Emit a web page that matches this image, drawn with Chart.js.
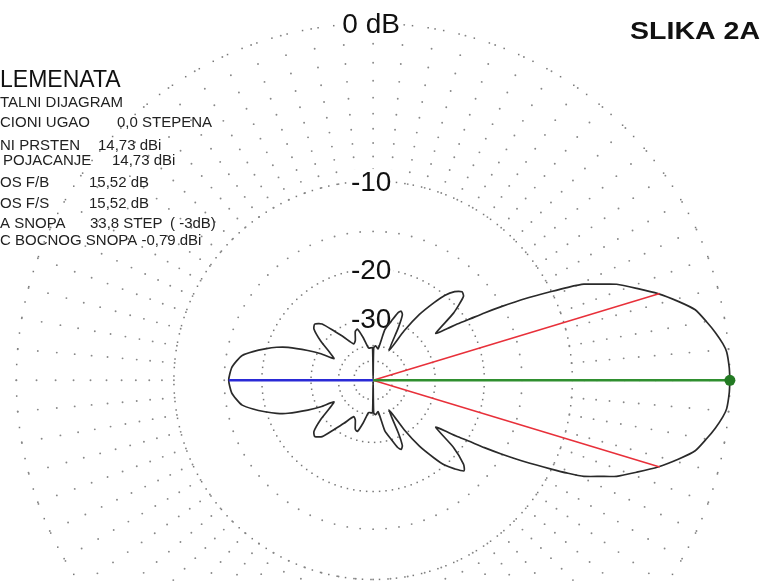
<!DOCTYPE html>
<html>
<head>
<meta charset="utf-8">
<script src="https://cdn.jsdelivr.net/npm/chart.js@4"></script>
<style>
  html, body { margin: 0; padding: 0; background: #fff; }
  #wrap { width: 763px; height: 582px; }
</style>
</head>
<body>
<div id="wrap"><canvas id="pattern-chart" width="763" height="582"></canvas></div>
<script>
// azimuth pattern, dB relative to the main lobe
// upper half (0 = forward, counter-clockwise)
let top_deg = [0, 2, 4.6, 6, 8, 10, 12.4, 14.5, 17, 19.3, 21.6, 23, 24.6, 25.6, 26.6, 28.3, 30, 31.3, 32.6, 34,
  35, 37, 40, 43, 45, 47.5, 50, 52, 55, 58, 62, 64.5, 66, 68, 70, 73, 77, 81, 86, 89, 90, 91, 94, 98, 103, 107,
  110, 114, 118, 124, 128, 132, 136, 139, 143, 147, 151, 153, 155.4, 158.7, 161, 163.7, 166.5, 169.2, 172, 175, 180];
let top_db = [0, -0.02, -0.1, -0.25, -0.55, -0.9, -1.35, -2.1, -3.1, -4.2, -5.3, -6.3, -7.4, -8.6, -10, -12.4,
  -15.1, -17.3, -19.7, -21.8, -23.5, -26, -21, -18.2, -17.9, -18.6, -20, -22, -25.5, -31, -40.5, -31, -27.5,
  -26.8, -27.5, -30, -33, -41.4, -40, -41, -99, -41, -41, -41, -36, -32.5, -33, -36, -37, -33, -30, -26.5,
  -25.4, -26, -29, -33, -35.6, -31, -27.5, -23.4, -21.5, -19.8, -18.2, -16.9, -16.3, -15.8, -15.52];
// lower half (180 -> 360)
let bot_deg = [185, 188, 190.8, 193.5, 196.3, 199, 201.3, 204.6, 207, 209, 213, 217, 221, 224, 228, 232, 236, 242,
  246, 250, 253, 257, 262, 266, 269, 270, 271, 274, 279, 283, 287, 290, 292, 294, 295.5, 298, 302, 305, 308, 310,
  312.5, 315, 317, 320, 323, 325, 326, 327.4, 328.7, 330, 331.7, 333.4, 334.4, 335.4, 337, 338.4, 340.7, 343,
  345.5, 347.6, 350, 352, 354, 355.4, 358, 360];
let bot_db = [-15.8, -16.3, -16.9, -18.2, -19.8, -21.5, -23.4, -27.5, -31, -35.6, -33, -29, -26, -25.4, -26.5, -30,
  -33, -37, -36, -33, -32.5, -36, -41, -41, -41, -99, -41, -40, -41.4, -33, -30, -27.5, -26.8, -27.5, -31, -40.5,
  -31, -25.5, -22, -20, -18.6, -17.5, -18.2, -21, -26, -23.5, -21.8, -19.7, -17.3, -15.1, -12.4, -10, -8.6, -7.4,
  -6.3, -5.3, -4.2, -3.1, -2.1, -1.35, -0.9, -0.55, -0.25, -0.1, -0.02, 0];

let beam_width = 33.8;      // STEP, at -3 dB
let beam_level = -3;
let front_back = 15.52;     // dB

let ring_levels = [0, -10, -20, -30, -40, -50];
let ring_labels = ['0 dB', '-10', '-20', '-30'];
let tick_levels = [0, -1, -2, -3, -4, -5, -6, -7, -8, -9, -10, -15];
let spoke_angles = [];
for (let a = 0; a < 360; a += 5) spoke_angles.push(a);

let info_names = ['TALNI DIJAGRAM', 'CIONI UGAO', 'NI PRSTEN', 'POJACANJE', 'OS F/B', 'OS F/S', 'A SNOPA',
  'C BOCNOG SNOPA -0,79 dBi'];
let info_values = ['', '0,0 STEPENA', '14,73 dBi', '14,73 dBi', '15,52 dB', '15,52 dB', '33,8 STEP', ''];

// ARRL log scale: 2 dB per 0.89
function arrl(db) { return Math.pow(0.89, -db / 2); }
function polar(deg, db) {
  let r = arrl(db), t = deg * Math.PI / 180;
  return { x: r * Math.cos(t), y: r * Math.sin(t) };
}

let pattern_pts = [];
top_deg.forEach((a, i) => pattern_pts.push(polar(a, top_db[i])));
bot_deg.forEach((a, i) => pattern_pts.push(polar(a, bot_db[i])));

let origin = { x: 0, y: 0 };

const gridPlugin = {
  id: 'grid',
  beforeDatasetsDraw(chart) {
    const ctx = chart.ctx;
    const xs = chart.scales.x, ys = chart.scales.y;
    const cx = xs.getPixelForValue(0), cy = ys.getPixelForValue(0);
    const unit = xs.getPixelForValue(1) - cx;
    const ringGap = [15.8, 8.5, 6.5, 6, 5.5, 5];
    ctx.save();
    ctx.fillStyle = '#777';
    ring_levels.forEach((lv, k) => {
      const r = arrl(lv) * unit;
      const n = Math.round(2 * Math.PI * r / ringGap[k]);
      for (let i = 0; i < n; i++) {
        const t = i / n * 2 * Math.PI;
        ctx.fillRect(cx + r * Math.cos(t) - 0.75, cy - r * Math.sin(t) - 0.75, 1.5, 1.5);
      }
    });
    ctx.fillStyle = '#888';
    spoke_angles.forEach(a => {
      const t = a * Math.PI / 180;
      tick_levels.forEach(lv => {
        const r = arrl(lv) * unit;
        ctx.beginPath();
        ctx.arc(cx + r * Math.cos(t), cy - r * Math.sin(t), 0.95, 0, 2 * Math.PI);
        ctx.fill();
      });
    });
    // ring labels
    ctx.font = '28px "Liberation Sans", Arial, sans-serif';
    ctx.textAlign = 'center';
    ctx.textBaseline = 'alphabetic';
    ring_labels.forEach((txt, k) => {
      const y = cy - arrl(ring_levels[k]) * unit;
      const w = ctx.measureText(txt).width;
      ctx.fillStyle = '#fff';
      ctx.fillRect(cx - 2 - w / 2 - 2, y - 12, w + 4, 24);
      ctx.fillStyle = '#111';
      ctx.fillText(txt, cx - 2, y + 10);
    });
    ctx.restore();
  },
  afterDraw(chart) {
    const ctx = chart.ctx;
    ctx.save();
    ctx.fillStyle = '#111';
    ctx.textBaseline = 'alphabetic';
    ctx.textAlign = 'left';
    // title
    ctx.font = 'bold 23px "Liberation Sans", Arial, sans-serif';
    let w = ctx.measureText('SLIKA 2A').width;
    ctx.save();
    ctx.translate(630, 38.5);
    ctx.scale(130 / w, 1);
    ctx.fillText('SLIKA 2A', 0, 0);
    ctx.restore();
    ctx.font = '23px "Liberation Sans", Arial, sans-serif';
    ctx.fillText('LEMENATA', 0, 86.5);
    ctx.font = '15px "Liberation Sans", Arial, sans-serif';
    ctx.fillStyle = '#222';
    const baseY = [106.5, 126.5, 150, 165, 186.5, 208, 228, 245];
    const nameX = [0, 0, 0, 3, 0, 0, 0, 0];
    const valX = [0, 117, 98, 112, 89, 89, 90, 0];
    info_names.forEach((nm, i) => {
      ctx.fillText(nm, nameX[i], baseY[i]);
      if (info_values[i]) ctx.fillText(info_values[i], valX[i], baseY[i]);
    });
    ctx.fillText('( -3dB)', 170, 228);
    ctx.restore();
  }
};

new Chart(document.getElementById('pattern-chart'), {
  type: 'scatter',
  data: {
    datasets: [
      { data: [origin, polar(0, 0)], showLine: true, borderColor: '#2f8f2f', borderWidth: 2.4,
        pointRadius: [0, 5.5], pointBackgroundColor: '#237a23', pointBorderWidth: 0, order: 1 },
      { data: [origin, polar(180, -front_back)], showLine: true, borderColor: '#2a2ad6', borderWidth: 2.4,
        pointRadius: 0, order: 2 },
      { data: [origin, polar(beam_width / 2, beam_level)], showLine: true, borderColor: '#e8303a',
        borderWidth: 1.5, pointRadius: 0, order: 3 },
      { data: [origin, polar(-beam_width / 2, beam_level)], showLine: true, borderColor: '#e8303a',
        borderWidth: 1.5, pointRadius: 0, order: 3 },
      { data: pattern_pts, showLine: true, borderColor: '#2a2a2a', borderWidth: 1.7, pointRadius: 0,
        tension: 0.2, order: 5 }
    ]
  },
  options: {
    responsive: false,
    animation: false,
    layout: { padding: 0 },
    plugins: { legend: { display: false }, tooltip: { enabled: false } },
    scales: {
      x: { display: false, min: -373 / 362, max: 390 / 362 },
      y: { display: false, min: -200 / 362, max: 382 / 362 }
    }
  },
  plugins: [gridPlugin]
});
</script>
</body>
</html>
